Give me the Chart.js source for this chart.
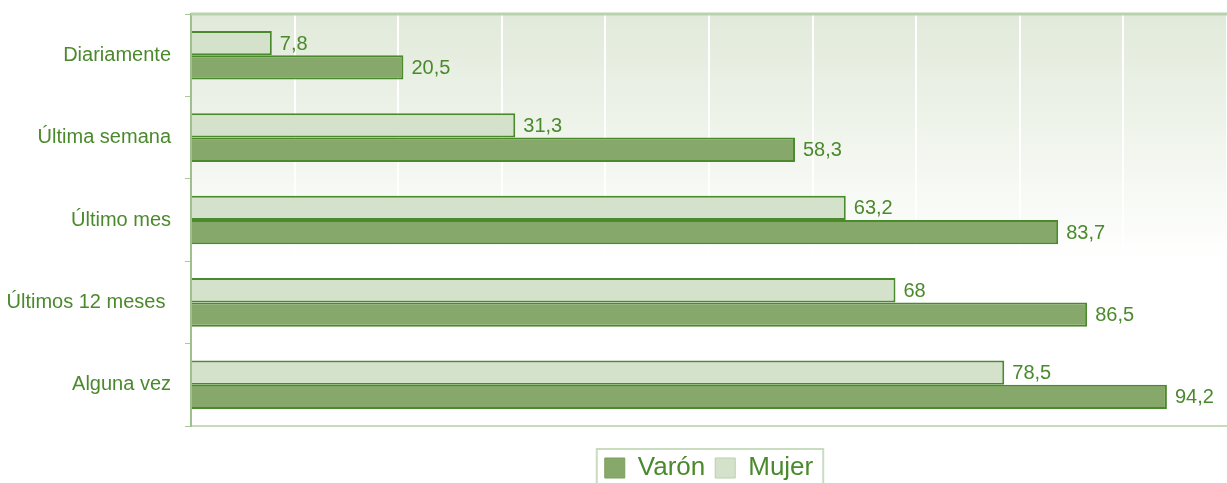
<!DOCTYPE html>
<html lang="es">
<head>
<meta charset="UTF-8">
<title>Consumo por sexo</title>
<script src="https://cdn.jsdelivr.net/npm/chart.js"></script>
<style>
body{ margin:0; background:#fff; }
</style>
</head>
<body>

<canvas id="chart" width="1227" height="483"></canvas>

<script>
const categories = ["Diariamente", "Última semana", "Último mes", "Últimos 12 meses ", "Alguna vez"];
const mujer = [7.8, 31.3, 63.2, 68, 78.5];
const varon = [20.5, 58.3, 83.7, 86.5, 94.2];

const green = "#4a892c";
const font = "Arial, 'Liberation Sans', sans-serif";

// gradient behind the plot area
const bgPlugin = {
    id: "bg",
    beforeDraw(chart){
        const {ctx, chartArea: a} = chart;
        const g = ctx.createLinearGradient(0, a.top, 0, a.bottom);
        g.addColorStop(0, "#e1eada");
        g.addColorStop(0.6, "#ffffff");
        g.addColorStop(1, "#ffffff");
        ctx.save();
        ctx.fillStyle = g;
        ctx.fillRect(a.left, a.top, a.right - a.left, a.bottom - a.top);
        ctx.restore();
    },
    afterDraw(chart){
        const {ctx, chartArea: a} = chart;
        ctx.save();
        // top border
        ctx.strokeStyle = "#b9d1ac";
        ctx.lineWidth = 3;
        ctx.beginPath();
        ctx.moveTo(a.left, a.top);
        ctx.lineTo(a.right, a.top);
        ctx.stroke();
        // legend frame
        const boxes = chart.legend.legendHitBoxes;
        if(boxes && boxes.length){
            const l = Math.min(...boxes.map(b => b.left)) - 8;
            const r = Math.max(...boxes.map(b => b.left + b.width)) + 10;
            const t = Math.min(...boxes.map(b => b.top)) - 6;
            ctx.strokeStyle = "#c9dcc0";
            ctx.lineWidth = 2;
            ctx.strokeRect(l, t, r - l, chart.height - t + 4);
        }
        ctx.restore();
    }
};

// value labels at bar ends
const valuePlugin = {
    id: "values",
    afterDatasetsDraw(chart){
        const {ctx} = chart;
        ctx.save();
        ctx.fillStyle = green;
        ctx.font = "20px " + font;
        ctx.textBaseline = "middle";
        ctx.textAlign = "left";
        chart.data.datasets.forEach((ds, i) => {
            chart.getDatasetMeta(i).data.forEach((bar, j) => {
                ctx.fillText(String(ds.data[j]).replace(".", ","), bar.x + 8, bar.y + 1);
            });
        });
        ctx.restore();
    }
};

new Chart(document.getElementById("chart"), {
    type: "bar",
    data: {
        labels: categories,
        datasets: [
            {label: "Mujer", data: mujer, backgroundColor: "#d5e2cb", borderColor: "#4b8a2c", borderWidth: 2, borderSkipped: "left"},
            {label: "Varón", data: varon, backgroundColor: "#86a96b", borderColor: "#4b8a2c", borderWidth: 2, borderSkipped: "left"}
        ]
    },
    options: {
        indexAxis: "y",
        responsive: false,
        animation: false,
        layout: {padding: {top: 14, right: 0, left: 0, bottom: -8}},
        datasets: {bar: {categoryPercentage: 0.59, barPercentage: 1}},
        scales: {
            x: {
                min: 0, max: 100,
                ticks: {display: false, stepSize: 10},
                grid: {
                    color: c => c.tick && c.tick.value === 0 ? "rgba(0,0,0,0)" : "#ffffff",
                    lineWidth: 2,
                    drawTicks: false
                },
                border: {display: true, color: "#c7dabb", width: 2},
                afterFit: s => { s.height = 19; s.paddingLeft = 0; s.paddingRight = 0; }
            },
            y: {
                ticks: {color: green, font: {size: 20, family: font}, padding: 14},
                grid: {drawOnChartArea: false, drawTicks: true, tickLength: 6, color: "#a9c79a"},
                border: {display: true, color: "#9dc08c", width: 2},
                afterFit: s => { s.width = 191; s.paddingTop = 0; s.paddingBottom = 0; }
            }
        },
        plugins: {
            tooltip: {enabled: false},
            legend: {
                position: "bottom",
                fullSize: false,
                reverse: true,
                labels: {
                    color: green,
                    font: {size: 26, family: font},
                    boxWidth: 20,
                    boxHeight: 20,
                    padding: 10,
                    generateLabels(chart){
                        const items = Chart.defaults.plugins.legend.labels.generateLabels(chart);
                        items.forEach(it => { it.lineWidth = 1; it.strokeStyle = it.datasetIndex === 1 ? "#7a9e5e" : "#b9cfab"; });
                        return items;
                    }
                }
            }
        }
    },
    plugins: [bgPlugin, valuePlugin]
});
</script>

</body>
</html>
